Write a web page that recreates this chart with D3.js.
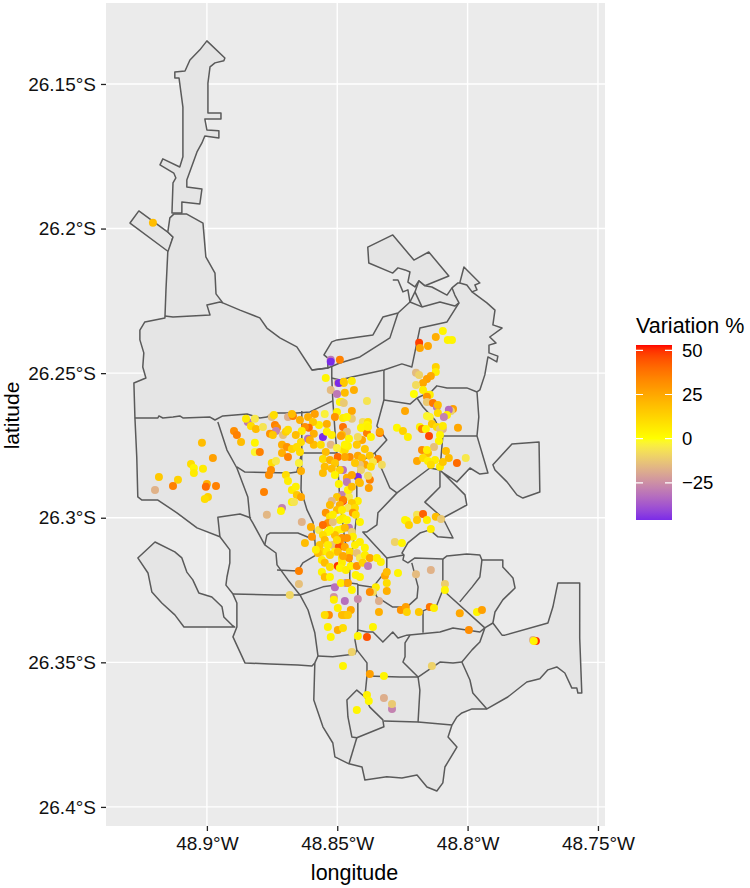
<!DOCTYPE html>
<html>
<head>
<meta charset="utf-8">
<script src="https://cdn.jsdelivr.net/npm/d3@7"></script>
<style>
  html, body { margin: 0; padding: 0; background: #fff; }
  text { font-family: "Liberation Sans", Arial, sans-serif; }
</style>
</head>
<body>
<div id="chart"></div>
<script>
// all positions are degrees west / degrees south
const lonTicks = [48.9, 48.85, 48.8, 48.75];
const latTicks = [26.15, 26.2, 26.25, 26.3, 26.35, 26.4];
const legendTicks = [50, 25, 0, -25];

//filled shapes
const stripShape = [[48.9,26.1351],[48.8931,26.141],[48.8935,26.142],[48.8969,26.1427],[48.8988,26.1441],[48.8996,26.1497],[48.8996,26.16],[48.8946,26.16],[48.8946,26.1621],[48.9008,26.1621],[48.9,26.1659],[48.8954,26.1662],[48.8954,26.1687],[48.9008,26.168],[48.9019,26.1704],[48.9038,26.1735],[48.9077,26.1832],[48.9077,26.1856],[48.9019,26.1863],[48.9027,26.1915],[48.9096,26.1908],[48.9096,26.1946],[48.9134,26.1946],[48.913,26.1842],[48.9119,26.1825],[48.9127,26.1808],[48.918,26.178],[48.9169,26.1759],[48.9104,26.1787],[48.9092,26.1752],[48.9092,26.158],[48.9107,26.1479],[48.9123,26.1479],[48.9123,26.1459],[48.9084,26.1455],[48.9065,26.1417],[48.9027,26.1382]];
const westTabShape = [[48.9261,26.1939],[48.915,26.2012],[48.913,26.2029],[48.9146,26.2081],[48.9295,26.1981]];
const northIslandShape = [[48.8383,26.2064],[48.8287,26.2022],[48.8206,26.2109],[48.8149,26.2081],[48.8072,26.2164],[48.8164,26.2198],[48.8187,26.2181],[48.8202,26.2202],[48.8229,26.2185],[48.8221,26.215],[48.824,26.2143],[48.8267,26.2136],[48.8287,26.2154],[48.8379,26.2119]];
const eastIslandShape = [[48.7903,26.2817],[48.783,26.2745],[48.7726,26.2738],[48.7723,26.2911],[48.7788,26.2932],[48.7811,26.2921],[48.7849,26.2876],[48.7895,26.2835]];
const southWestShape = [[48.9199,26.3084],[48.9123,26.3118],[48.9096,26.3139],[48.9077,26.3188],[48.9054,26.3215],[48.9031,26.326],[48.8981,26.3274],[48.8942,26.3308],[48.8935,26.3343],[48.8904,26.3371],[48.8893,26.3378],[48.8996,26.3378],[48.9088,26.3378],[48.9123,26.3336],[48.9173,26.3295],[48.9211,26.3257],[48.9226,26.3191],[48.9265,26.3139]];
const mainShape = [[48.9127,26.195],[48.9077,26.195],[48.9015,26.1981],[48.9004,26.2098],[48.8969,26.2154],[48.8965,26.2226],[48.8939,26.2257],[48.8873,26.2282],[48.8797,26.2309],[48.877,26.2344],[48.872,26.2378],[48.8655,26.2409],[48.8597,26.2489],[48.8536,26.2482],[48.8536,26.2448],[48.8551,26.2437],[48.8521,26.2392],[48.8501,26.2385],[48.8363,26.2368],[48.8325,26.2306],[48.8267,26.2292],[48.8221,26.2254],[48.8202,26.2219],[48.8187,26.2181],[48.8164,26.2198],[48.8137,26.2202],[48.8079,26.223],[48.806,26.2205],[48.8037,26.2188],[48.803,26.2188],[48.8014,26.2133],[48.7953,26.2188],[48.7972,26.2195],[48.7964,26.2212],[48.7983,26.2219],[48.7926,26.2257],[48.7895,26.2282],[48.7903,26.2333],[48.7868,26.2344],[48.7915,26.2375],[48.7891,26.2396],[48.7918,26.2403],[48.7918,26.243],[48.7884,26.2441],[48.7888,26.2461],[48.7922,26.2444],[48.7934,26.2506],[48.7953,26.2558],[48.7964,26.2565],[48.7957,26.2651],[48.7964,26.2717],[48.7922,26.2845],[48.7953,26.2849],[48.7991,26.2828],[48.8041,26.2876],[48.8098,26.2842],[48.801,26.2921],[48.8003,26.2956],[48.8095,26.3001],[48.8056,26.307],[48.8114,26.3066],[48.8145,26.3042],[48.8183,26.3053],[48.8229,26.3087],[48.8252,26.3122],[48.8244,26.3129],[48.8248,26.3146],[48.8229,26.3156],[48.8202,26.3139],[48.8095,26.3143],[48.8079,26.3132],[48.8003,26.3125],[48.7953,26.3129],[48.7945,26.3146],[48.7865,26.3146],[48.7865,26.317],[48.7826,26.3208],[48.7818,26.3243],[48.7865,26.3284],[48.7895,26.3326],[48.7903,26.3364],[48.7868,26.3406],[48.7857,26.3406],[48.7692,26.3364],[48.7673,26.3309],[48.7654,26.3226],[48.757,26.3226],[48.757,26.3416],[48.7562,26.3606],[48.7577,26.3606],[48.7581,26.3589],[48.76,26.3589],[48.7627,26.3537],[48.7658,26.3516],[48.7692,26.3526],[48.7723,26.3557],[48.7773,26.3568],[48.7846,26.362],[48.7926,26.3661],[48.7983,26.3661],[48.8022,26.3675],[48.8041,26.3689],[48.806,26.3717],[48.8075,26.3758],[48.8041,26.3793],[48.8087,26.3862],[48.8095,26.3917],[48.8118,26.3945],[48.8156,26.3931],[48.8194,26.389],[48.8252,26.39],[48.831,26.3896],[48.8394,26.3907],[48.8405,26.3862],[48.8455,26.3851],[48.8509,26.3827],[48.8517,26.3779],[48.8555,26.3723],[48.859,26.363],[48.8586,26.3502],[48.8597,26.3513],[48.8651,26.3509],[48.8758,26.3506],[48.8854,26.3502],[48.89,26.3412],[48.8885,26.3378],[48.8885,26.3295],[48.89,26.3264],[48.8927,26.3233],[48.8923,26.3205],[48.8912,26.3156],[48.8912,26.3111],[48.895,26.3066],[48.9038,26.3035],[48.9115,26.2983],[48.9188,26.2939],[48.9249,26.2939],[48.9265,26.2928],[48.9269,26.279],[48.9276,26.2655],[48.928,26.2534],[48.9234,26.2517],[48.9246,26.2479],[48.9242,26.243],[48.9257,26.2385],[48.9257,26.2351],[48.9238,26.2323],[48.9161,26.2309],[48.9157,26.2212],[48.915,26.2081],[48.913,26.2029],[48.915,26.2012],[48.9142,26.1963]];
const shapes = [stripShape, westTabShape, northIslandShape, eastIslandShape, southWestShape, mainShape];

//inner borders
const innerBorders = [
  [[48.9161,26.2302],[48.913,26.2306],[48.8988,26.2299],[48.9,26.2264],[48.895,26.2254],[48.8939,26.2257]],
  [[48.8597,26.2489],[48.8536,26.2482],[48.849,26.2465],[48.8413,26.2444],[48.8298,26.2378],[48.8267,26.2292]],
  [[48.8521,26.2475],[48.8521,26.2517],[48.8517,26.2593],[48.8509,26.2696],[48.8501,26.2776],[48.849,26.2939],[48.8471,26.3077],[48.8452,26.3156],[48.8452,26.3226]],
  [[48.8521,26.2517],[48.849,26.2524],[48.8444,26.2513],[48.8321,26.2489],[48.8252,26.2468],[48.8214,26.2479],[48.8183,26.2344],[48.8079,26.2323],[48.8033,26.2257],[48.8049,26.223],[48.806,26.2205]],
  [[48.8221,26.2254],[48.8175,26.2271],[48.8106,26.2254],[48.8049,26.2268],[48.8033,26.2257]],
  [[48.8202,26.2219],[48.8175,26.2271]],
  [[48.8287,26.2178],[48.8267,26.2178],[48.8248,26.2219],[48.8229,26.2212],[48.8221,26.2254]],
  [[48.803,26.2188],[48.8003,26.2195],[48.7983,26.2219]],
  [[48.9276,26.2655],[48.9188,26.2655],[48.9184,26.2648],[48.9169,26.2655],[48.913,26.2652],[48.9104,26.2648],[48.9092,26.2655],[48.8988,26.2652],[48.8969,26.2662],[48.8939,26.2648],[48.8846,26.2641],[48.8797,26.2655],[48.877,26.2652],[48.8747,26.2638],[48.8655,26.2638],[48.8605,26.2634],[48.8517,26.2596]],
  [[48.8958,26.2669],[48.8923,26.2766],[48.8885,26.2828],[48.8843,26.2928],[48.8835,26.3001],[48.8824,26.3018],[48.8778,26.3094],[48.8735,26.3122],[48.8731,26.3163],[48.8689,26.3215],[48.8643,26.3267],[48.8612,26.3319],[48.8586,26.3398],[48.8574,26.3478],[48.8586,26.3502]],
  [[48.8885,26.2824],[48.8854,26.2842],[48.8682,26.2845],[48.8655,26.2842],[48.8636,26.2776],[48.8555,26.2776],[48.8501,26.2776]],
  [[48.8636,26.2631],[48.8636,26.2776],[48.8639,26.2904],[48.8616,26.2973],[48.8593,26.3015],[48.8586,26.3077],[48.8582,26.3129],[48.8632,26.3156],[48.8651,26.3184],[48.8731,26.3181]],
  [[48.8778,26.3094],[48.877,26.306],[48.8758,26.3053],[48.8651,26.3053],[48.8586,26.3077]],
  [[48.895,26.3066],[48.8958,26.2998],[48.8873,26.2987],[48.8831,26.3001]],
  [[48.89,26.3264],[48.8739,26.3267],[48.8643,26.3267],[48.8555,26.3239],[48.8452,26.3226],[48.8421,26.3229]],
  [[48.8421,26.3229],[48.8421,26.3388],[48.8432,26.3423],[48.8425,26.3457],[48.8386,26.3502],[48.8386,26.3547],[48.8394,26.362],[48.8375,26.3655],[48.8325,26.3699],[48.8321,26.3723],[48.8425,26.3761],[48.8444,26.3758],[48.8459,26.3689],[48.8463,26.363],[48.8425,26.3596],[48.8394,26.362]],
  [[48.8574,26.3478],[48.8517,26.3481],[48.8432,26.3471],[48.8425,26.3457]],
  [[48.8425,26.3761],[48.8455,26.3851]],
  [[48.8421,26.3388],[48.8386,26.3395],[48.8363,26.3395],[48.8325,26.343],[48.8287,26.3395],[48.8267,26.3416],[48.8233,26.3406],[48.8106,26.3395],[48.8056,26.3381],[48.7953,26.3395],[48.7934,26.3381],[48.7903,26.3364]],
  [[48.7934,26.3381],[48.7953,26.343],[48.7983,26.3457],[48.8022,26.3499],[48.7991,26.3561],[48.798,26.3606],[48.7926,26.3661]],
  [[48.8022,26.3499],[48.8056,26.3502],[48.8106,26.3499],[48.819,26.3551],[48.8248,26.3499],[48.824,26.3481],[48.824,26.3433],[48.8221,26.3406]],
  [[48.8386,26.3547],[48.826,26.3551],[48.819,26.3551],[48.8183,26.3596],[48.819,26.3706],[48.8321,26.3703]],
  [[48.819,26.3706],[48.806,26.3717]],
  [[48.7945,26.3146],[48.7953,26.3205],[48.7983,26.324],[48.803,26.3291]],
  [[48.8095,26.3143],[48.8095,26.325],[48.7934,26.3381]],
  [[48.8095,26.325],[48.8118,26.3302],[48.8171,26.3322],[48.8171,26.3398]],
  [[48.8214,26.3156],[48.819,26.3239],[48.8194,26.3277],[48.8233,26.3309],[48.8287,26.3309],[48.8348,26.3274],[48.8363,26.324]],
  [[48.8421,26.3233],[48.8363,26.324],[48.831,26.318],[48.831,26.3139],[48.8244,26.3129]],
  [[48.8321,26.2489],[48.8321,26.2593],[48.8348,26.2683],[48.831,26.2731],[48.8356,26.2776],[48.8413,26.2807],[48.8425,26.2869],[48.8425,26.299],[48.8448,26.3156]],
  [[48.8356,26.2776],[48.8298,26.2897],[48.8271,26.2914],[48.8344,26.2983],[48.8348,26.3025],[48.8386,26.3049],[48.8402,26.3049],[48.8367,26.3084],[48.831,26.3139]],
  [[48.8321,26.2593],[48.8221,26.2607],[48.8194,26.2586],[48.8171,26.2617],[48.8125,26.2662],[48.8095,26.2717],[48.8106,26.2835],[48.8098,26.2842]],
  [[48.8194,26.2586],[48.8137,26.2562],[48.8118,26.2544],[48.8079,26.2551],[48.8003,26.2551],[48.7964,26.2565]],
  [[48.8095,26.2717],[48.7964,26.2717]],
  [[48.8271,26.2914],[48.8145,26.2828],[48.8106,26.2835],[48.8106,26.2894],[48.8164,26.2946],[48.8095,26.3001]]
];

//points, same order in all three
const pointLon = [48.9207,48.849,48.8186,48.8183,48.8152,48.8122,48.8095,48.8076,48.806,48.8122,48.8122,48.8198,48.8186,48.8141,48.8156,48.8171,48.8198,48.8171,48.8206,48.8156,48.8145,48.8156,48.8156,48.8133,48.8118,48.8114,48.8056,48.8064,48.8072,48.8114,48.8079,48.8091,48.8156,48.8145,48.824,48.8137,48.8271,48.8248,48.8229,48.8183,48.8175,48.816,48.8148,48.8118,48.8095,48.8106,48.8095,48.8037,48.811,48.8106,48.8129,48.8175,48.8083,48.8152,48.8156,48.8194,48.8171,48.8152,48.8125,48.8141,48.8106,48.8095,48.8072,48.8041,48.8007,48.8444,48.8475,48.8436,48.8471,48.8386,48.8482,48.8444,48.8444,48.8402,48.8382,48.8386,48.8405,48.8478,48.8463,48.8337,48.8337,48.8386,48.8371,48.8405,48.8455,48.8421,48.8482,48.8394,48.8478,48.8375,48.8421,48.8405,48.8452,48.8344,48.8363,48.8329,48.8394,48.8413,48.8371,48.8409,48.8478,48.8375,48.8382,48.8421,48.8463,48.8417,48.8463,48.8379,48.8455,48.8482,48.8455,48.8525,48.8525,48.8544,48.8498,48.8494,48.8475,48.8525,48.8501,48.849,48.8475,48.8501,48.8509,48.8478,48.8843,48.885,48.8816,48.8831,48.8812,48.8785,48.8751,48.8743,48.8689,48.867,48.8674,48.8896,48.8885,48.8869,48.8816,48.8816,48.8797,48.8739,48.8731,48.8735,48.8758,48.8747,48.8708,48.8697,48.8689,48.8712,48.8712,48.8689,48.8693,48.8674,48.8655,48.8639,48.8643,48.8612,48.8586,48.8548,48.857,48.8593,48.8609,48.8624,48.854,48.8636,48.859,48.8612,48.8555,48.854,48.859,48.8563,48.8525,48.8501,48.8647,48.8639,48.8751,48.8735,48.8754,48.8762,48.8697,48.8689,48.8781,48.8674,48.8659,48.8655,48.8639,48.8674,48.8666,48.8712,48.8716,48.877,48.8636,48.8601,48.8597,48.8624,48.857,48.9019,48.8977,48.9061,48.905,48.9015,48.905,48.9184,48.9111,48.913,48.9199,48.9,48.9004,48.8965,48.8996,48.9008,48.8463,48.8486,48.8409,48.8382,48.8544,48.8471,48.8459,48.8498,48.8555,48.8528,48.8509,48.8471,48.8432,48.8548,48.8521,48.8555,48.8444,48.8494,48.8413,48.8501,48.8421,48.8521,48.8478,48.8478,48.849,48.8444,48.8459,48.8432,48.8501,48.844,48.8429,48.8544,48.8528,48.849,48.8478,48.8413,48.8536,48.8555,48.8517,48.8455,48.8498,48.8482,48.8536,48.8555,48.8509,48.8444,48.844,48.8548,48.8482,48.8463,48.849,48.8413,48.8517,48.8494,48.8471,48.8559,48.854,48.8509,48.8452,48.8425,48.8394,48.8559,48.8528,48.8482,48.8455,48.8413,48.8394,48.8375,48.8348,48.8333,48.8548,48.8528,48.8498,48.8482,48.8448,48.8425,48.8402,48.8382,48.8559,48.8548,48.8528,48.8429,48.8413,48.8647,48.8647,48.8682,48.8509,48.8467,48.8486,48.8459,48.8444,48.8513,48.8513,48.8471,48.8421,48.8498,48.8448,48.8532,48.8548,48.8482,48.8471,48.8459,48.8536,48.8498,48.8478,48.8525,48.8421,48.8363,48.8386,48.8444,48.8478,48.8375,48.8321,48.8386,48.8379,48.8425,48.8321,48.829,48.829,48.8137,48.834,48.834,48.8256,48.8237,48.8233,48.8187,48.8145,48.8129,48.803,48.7995,48.7964,48.7945,48.8317,48.831,48.831,48.831,48.8267,48.8198,48.8141,48.8087,48.8087,48.8352,48.8363,48.8375,48.7749,48.7738,48.7746,48.8233,48.824,48.8225,48.8194,48.8194,48.8171,48.8156,48.8122,48.8102,48.8141,48.8279,48.8252,
  48.8574,48.8536,48.8567,48.8501,48.8471,48.8517,48.8463,48.8482,48.8528,48.8459,48.849,48.8509,48.8444,48.8471,48.8425,48.8521,48.8605,48.8659,48.8643,48.8528,48.8582,48.849,48.8467,48.8432,48.8498,48.8478];
const pointLat = [26.198,26.2454,26.2395,26.2413,26.2406,26.2375,26.2354,26.2385,26.2385,26.2479,26.2496,26.2499,26.2506,26.251,26.252,26.2534,26.2541,26.2558,26.2572,26.2575,26.2575,26.2582,26.26,26.2603,26.2617,26.261,26.2624,26.2631,26.2627,26.2638,26.2645,26.2652,26.2648,26.2652,26.2631,26.2676,26.2689,26.27,26.2721,26.2686,26.2693,26.2693,26.2717,26.2686,26.2693,26.2693,26.2683,26.2689,26.2735,26.2714,26.2755,26.2766,26.2769,26.2776,26.2766,26.2804,26.2793,26.2804,26.28,26.2817,26.2824,26.2807,26.2793,26.2811,26.2793,26.2527,26.2534,26.2558,26.2568,26.2596,26.26,26.2631,26.2658,26.2669,26.2669,26.2679,26.2689,26.2686,26.2703,26.2707,26.2703,26.2707,26.2721,26.2731,26.2727,26.2721,26.2714,26.2762,26.2766,26.2786,26.2786,26.2793,26.279,26.2797,26.2807,26.2817,26.2817,26.2817,26.2824,26.2835,26.2835,26.2869,26.2855,26.2859,26.2862,26.2876,26.2876,26.2897,26.2904,26.2921,26.2928,26.2454,26.2461,26.2517,26.2534,26.2534,26.253,26.2558,26.2572,26.26,26.2603,26.2634,26.2652,26.2655,26.2669,26.2658,26.2658,26.2683,26.2693,26.2686,26.2652,26.2645,26.2652,26.2648,26.2641,26.27,26.2714,26.2738,26.2741,26.2773,26.2773,26.2679,26.2689,26.27,26.271,26.2714,26.2714,26.2703,26.2696,26.2748,26.2776,26.279,26.2755,26.2762,26.2755,26.2738,26.2662,26.2652,26.2641,26.2641,26.2679,26.2669,26.2689,26.2686,26.2676,26.27,26.271,26.2727,26.2721,26.2703,26.2748,26.2748,26.2748,26.2759,26.2811,26.2838,26.2811,26.2804,26.2835,26.2852,26.2852,26.2873,26.2911,26.2904,26.2893,26.2921,26.2928,26.2946,26.2946,26.2966,26.2977,26.299,26.3015,26.3032,26.3066,26.3087,26.3042,26.2741,26.2793,26.2814,26.2828,26.2831,26.2845,26.2859,26.2869,26.289,26.2904,26.2883,26.2893,26.289,26.2928,26.2935,26.2652,26.2717,26.2689,26.2686,26.2773,26.2766,26.2752,26.279,26.2797,26.28,26.2811,26.279,26.2811,26.2824,26.2831,26.2845,26.2852,26.2883,26.288,26.2928,26.2942,26.2942,26.2942,26.2939,26.2956,26.2949,26.2966,26.2966,26.2973,26.2983,26.299,26.2983,26.2997,26.3008,26.3001,26.3015,26.3018,26.3025,26.3015,26.3035,26.3042,26.3039,26.3049,26.306,26.306,26.3049,26.3066,26.3077,26.307,26.307,26.3087,26.3084,26.3094,26.3101,26.3101,26.3118,26.3118,26.3118,26.3118,26.3122,26.3104,26.3146,26.3129,26.3139,26.3139,26.3139,26.3129,26.3139,26.3139,26.3153,26.3156,26.317,26.3167,26.3156,26.3167,26.3167,26.3156,26.3167,26.3188,26.3205,26.3205,26.3198,26.3205,26.3184,26.3229,26.3267,26.324,26.3226,26.3226,26.3226,26.325,26.3274,26.3284,26.3288,26.3281,26.3312,26.3319,26.3336,26.3336,26.3336,26.3336,26.3336,26.3378,26.3388,26.3381,26.3412,26.3409,26.3378,26.3412,26.3464,26.3513,26.354,26.3547,26.3613,26.3634,26.3665,26.3623,26.3661,26.3644,26.3513,26.3326,26.3288,26.3319,26.3309,26.3326,26.3326,26.3309,26.3312,26.333,26.3388,26.3326,26.3319,26.3201,26.3188,26.3226,26.3253,26.3191,26.3195,26.3181,26.3229,26.325,26.324,26.3257,26.3257,26.3423,26.3426,26.3426,26.3011,26.3008,26.3025,26.299,26.3008,26.2987,26.3008,26.2997,26.3004,26.3039,26.3084,26.3087,
  26.3122,26.3094,26.3094,26.3077,26.3035,26.299,26.3008,26.2973,26.2956,26.2904,26.2835,26.2852,26.2893,26.2748,26.2748,26.2714,26.2731,26.2714,26.2773,26.3042,26.3111,26.3174,26.3181,26.3094,26.3118,26.3132];
const pointVar = [19,35,48,25,25,23,3,3,3,13,5,-15,-10,25,27,25,-8,5,0,5,5,30,-12,37,-30,19,27,-10,-33,10,5,-28,-2,-2,25,16,2,13,5,4,35,3,47,10,-17,-12,6,25,3,3,-14,32,19,19,5,25,10,5,5,10,6,16,19,40,-5,5,16,23,19,-6,5,25,-12,-8,10,3,3,38,-15,40,25,35,3,25,3,-8,19,16,5,16,25,19,32,35,-5,-8,25,-14,10,-10,-32,35,-8,-46,23,19,-30,27,-14,-28,-5,-30,-46,3,-18,-46,16,-15,-30,3,-12,4,30,5,-30,6,-5,10,19,-6,-14,10,-18,35,19,32,35,19,3,-2,35,35,32,-28,30,16,-14,13,10,23,23,35,30,13,10,10,23,23,27,-3,5,16,40,32,23,5,23,-32,-46,5,19,10,-16,-3,-3,23,10,-5,32,32,10,5,35,6,4,16,25,3,-6,-28,3,-16,-17,23,30,19,-5,19,27,10,3,6,6,16,13,35,-17,23,40,35,13,10,3,27,3,4,19,10,4,40,10,23,16,25,16,19,19,19,25,3,19,16,5,-16,50,35,23,16,-6,10,19,30,10,30,10,3,5,3,30,40,-14,-30,3,3,2,10,19,-10,5,19,30,30,32,5,-14,45,25,13,5,3,10,-14,3,5,13,5,30,-5,5,25,5,4,19,10,50,5,3,30,13,-30,3,19,3,3,3,35,-14,-9,-32,-28,5,25,3,-24,5,-32,-26,4,25,32,10,19,19,16,4,23,10,3,3,3,45,-10,3,27,3,4,2,3,-18,-28,-12,-10,23,-18,30,27,13,16,38,5,25,32,3,27,25,19,10,23,3,-15,-17,-11,3,5,-8,32,-18,50,3,3,3,13,-6,16,42,5,19,-12,5,-10,3,
  19,5,16,10,19,5,3,5,19,3,13,3,19,3,16,5,23,19,10,3,5,3,5,5,19,25];

const width = 750, height = 888;
const panel = {l: 106, r: 605, t: 3, b: 826};

const svg = d3.select("#chart").append("svg")
    .attr("width", width)
    .attr("height", height);

// west is drawn to the right, south downwards
const x = d3.scaleLinear().domain([48.9387, 48.7473]).range([panel.l, panel.r]);
const y = d3.scaleLinear().domain([26.122, 26.4066]).range([panel.t, panel.b]);

const color = d3.scaleLinear()
    .domain([-46, 0, 53])
    .range(["#7a2be8", "#ffff00", "#ff0000"])
    .interpolate(d3.interpolateLab);

//panel and grid
svg.append("rect")
    .attr("x", panel.l).attr("y", panel.t)
    .attr("width", panel.r - panel.l).attr("height", panel.b - panel.t)
    .attr("fill", "#ebebeb");

svg.append("g").selectAll("line").data(lonTicks).join("line")
    .attr("x1", d => x(d)).attr("x2", d => x(d))
    .attr("y1", panel.t).attr("y2", panel.b)
    .attr("stroke", "#fff").attr("stroke-width", 1.4);
svg.append("g").selectAll("line").data(latTicks).join("line")
    .attr("x1", panel.l).attr("x2", panel.r)
    .attr("y1", d => y(d)).attr("y2", d => y(d))
    .attr("stroke", "#fff").attr("stroke-width", 1.4);

//axes
const axisX = d3.axisBottom(x).tickValues(lonTicks).tickSize(5).tickPadding(6)
    .tickFormat(d => d + "°W");
const axisY = d3.axisLeft(y).tickValues(latTicks).tickSize(5).tickPadding(5)
    .tickFormat(d => d + "°S");

const gx = svg.append("g").attr("transform", `translate(0,${panel.b})`).call(axisX);
const gy = svg.append("g").attr("transform", `translate(${panel.l},0)`).call(axisY);
[gx, gy].forEach(g => {
    g.select(".domain").remove();
    g.selectAll(".tick line").attr("stroke", "#222").attr("stroke-width", 1.3);
    g.selectAll(".tick text").attr("fill", "#111").attr("font-size", 19)
        .attr("font-family", "Liberation Sans");
});

//map
const line = d3.line().x(d => x(d[0])).y(d => y(d[1]));
svg.append("g").selectAll("path").data(shapes).join("path")
    .attr("d", d => line(d) + "Z")
    .attr("fill", "#e5e5e5")
    .attr("stroke", "#5a5a5a")
    .attr("stroke-width", 1.5)
    .attr("stroke-linejoin", "round");
svg.append("g").selectAll("path").data(innerBorders).join("path")
    .attr("d", line)
    .attr("fill", "none")
    .attr("stroke", "#5a5a5a")
    .attr("stroke-width", 1.5)
    .attr("stroke-linejoin", "round");

//points
svg.append("g").selectAll("circle").data(pointVar).join("circle")
    .attr("cx", (d, i) => x(pointLon[i]))
    .attr("cy", (d, i) => y(pointLat[i]))
    .attr("r", 4)
    .attr("fill", d => color(d));

//axis titles
svg.append("text")
    .attr("x", (panel.l + panel.r) / 2 - 1).attr("y", 880)
    .attr("text-anchor", "middle").attr("font-size", 21.5).attr("fill", "#000")
    .text("longitude");
svg.append("text")
    .attr("transform", `translate(19,${(panel.t + panel.b) / 2 + 1}) rotate(-90)`)
    .attr("text-anchor", "middle").attr("font-size", 21).attr("fill", "#000")
    .text("latitude");

//legend
const legendLeft = 636, legendWidth = 36;
const legendScale = d3.scaleLinear().domain([-46, 53]).range([520, 345]);

const grad = svg.append("defs").append("linearGradient")
    .attr("id", "varGrad")
    .attr("x1", 0).attr("y1", 1).attr("x2", 0).attr("y2", 0);
d3.range(-46, 54).forEach(v => {
    grad.append("stop")
        .attr("offset", (v + 46) / 99)
        .attr("stop-color", color(v));
});

svg.append("text")
    .attr("x", legendLeft).attr("y", 333)
    .attr("font-size", 21.5).attr("fill", "#000")
    .text("Variation %");
svg.append("rect")
    .attr("x", legendLeft).attr("y", legendScale(53))
    .attr("width", legendWidth).attr("height", legendScale(-46) - legendScale(53))
    .attr("fill", "url(#varGrad)");

// white marks on both edges of the bar
svg.append("g").selectAll("path").data(legendTicks).join("path")
    .attr("d", d => `M${legendLeft},${legendScale(d)}h7M${legendLeft + legendWidth - 7},${legendScale(d)}h7`)
    .attr("stroke", "#fff").attr("stroke-width", 1.2).attr("fill", "none");

const axisLegend = d3.axisRight(legendScale).tickValues(legendTicks).tickSize(0).tickPadding(10);
const gl = svg.append("g")
    .attr("transform", `translate(${legendLeft + legendWidth},0)`)
    .call(axisLegend);
gl.select(".domain").remove();
gl.selectAll(".tick text").attr("fill", "#000").attr("font-size", 18.5)
    .attr("font-family", "Liberation Sans");
</script>
</body>
</html>
